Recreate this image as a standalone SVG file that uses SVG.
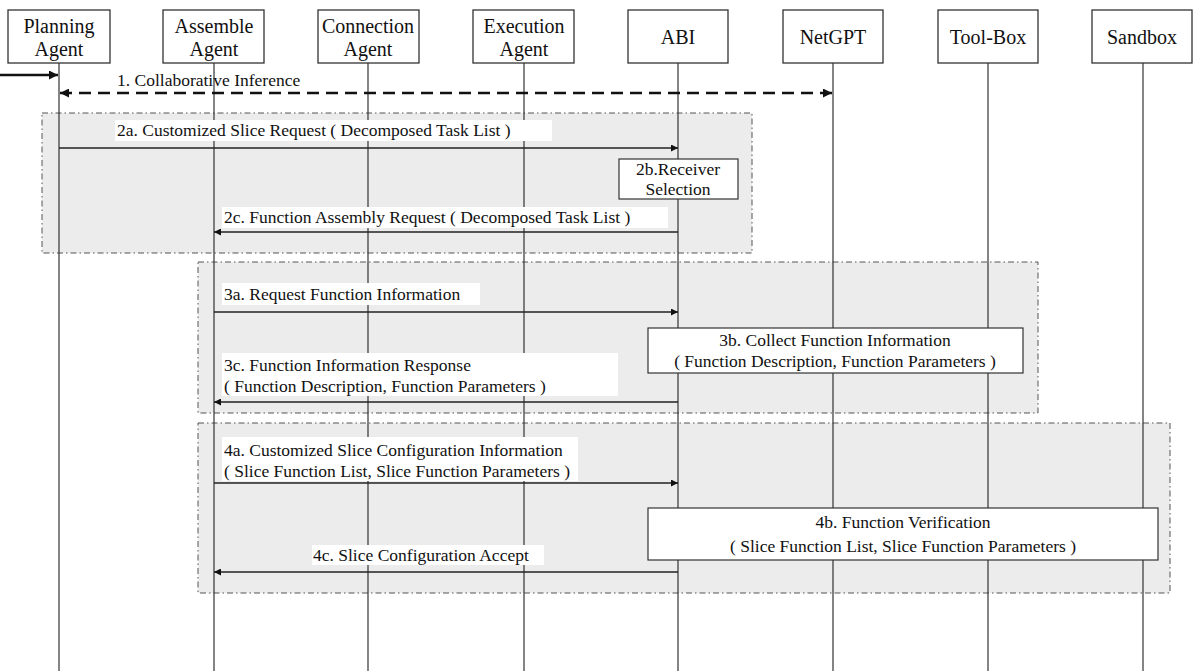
<svg xmlns="http://www.w3.org/2000/svg" width="1193" height="671" viewBox="0 0 1193 671">
  <defs>
    <marker id="arr" viewBox="0 0 10 10" refX="10" refY="5" markerWidth="9" markerHeight="7" markerUnits="userSpaceOnUse" orient="auto-start-reverse">
      <path d="M0,0 L10,5 L0,10 z" fill="#111"/>
    </marker>
    <marker id="arrBig" viewBox="0 0 10 10" refX="10" refY="5" markerWidth="12" markerHeight="9" markerUnits="userSpaceOnUse" orient="auto-start-reverse">
      <path d="M0,0 L10,5 L0,10 z" fill="#111"/>
    </marker>
  </defs>
  <style>
    .hdr { fill: #fff; stroke: #333; stroke-width: 1.3; }
    .hdrt { font-family: "Liberation Serif", "Times New Roman", serif; font-size: 20px; fill: #111; text-anchor: middle; }
    .life { stroke: #333; stroke-width: 1.2; }
    .grp { fill: #ececec; stroke: #555; stroke-width: 1; stroke-dasharray: 6 3 1.5 3; }
    .lbl { fill: #fff; stroke: none; }
    .lt { font-family: "Liberation Serif", "Times New Roman", serif; font-size: 17.5px; fill: #111; }
    .ct { text-anchor: middle; }
    .box { fill: #fff; stroke: #333; stroke-width: 1.2; }
    .msg { stroke: #222; stroke-width: 1.3; fill: none; marker-end: url(#arr); }
  </style>
  <rect width="1193" height="671" fill="#fff"/>

  <!-- grouping frames -->
  <g id="frames">
    <rect class="grp" x="42" y="113" width="710" height="140"/>
    <rect class="grp" x="198" y="262" width="840" height="151"/>
    <rect class="grp" x="198" y="423" width="972" height="170"/>
  </g>

  <!-- lifelines -->
  <g id="lifelines">
    <line class="life" x1="59" y1="63" x2="59" y2="671"/>
    <line class="life" x1="214" y1="63" x2="214" y2="671"/>
    <line class="life" x1="368" y1="63" x2="368" y2="671"/>
    <line class="life" x1="524" y1="63" x2="524" y2="671"/>
    <line class="life" x1="678" y1="63" x2="678" y2="671"/>
    <line class="life" x1="833" y1="63" x2="833" y2="671"/>
    <line class="life" x1="988" y1="63" x2="988" y2="671"/>
    <line class="life" x1="1143" y1="63" x2="1143" y2="671"/>
  </g>

  <!-- participants -->
  <g id="planning-agent">
    <rect class="hdr" x="8" y="10" width="102" height="53"/>
    <text class="hdrt" x="59" y="33">Planning</text>
    <text class="hdrt" x="59" y="56">Agent</text>
  </g>
  <g id="assemble-agent">
    <rect class="hdr" x="163" y="10" width="101" height="53"/>
    <text class="hdrt" x="214" y="33">Assemble</text>
    <text class="hdrt" x="214" y="56">Agent</text>
  </g>
  <g id="connection-agent">
    <rect class="hdr" x="318" y="10" width="101" height="53"/>
    <text class="hdrt" x="368" y="33">Connection</text>
    <text class="hdrt" x="368" y="56">Agent</text>
  </g>
  <g id="execution-agent">
    <rect class="hdr" x="473" y="10" width="101" height="53"/>
    <text class="hdrt" x="524" y="33">Execution</text>
    <text class="hdrt" x="524" y="56">Agent</text>
  </g>
  <g id="abi">
    <rect class="hdr" x="628" y="10" width="100" height="53"/>
    <text class="hdrt" x="678" y="44">ABI</text>
  </g>
  <g id="netgpt">
    <rect class="hdr" x="783" y="10" width="100" height="53"/>
    <text class="hdrt" x="833" y="44">NetGPT</text>
  </g>
  <g id="tool-box">
    <rect class="hdr" x="938" y="10" width="100" height="53"/>
    <text class="hdrt" x="988" y="44">Tool-Box</text>
  </g>
  <g id="sandbox">
    <rect class="hdr" x="1092" y="10" width="100" height="53"/>
    <text class="hdrt" x="1142" y="44">Sandbox</text>
  </g>

  <!-- messages -->
  <g id="connectors">
    <line x1="0" y1="75" x2="58" y2="75" stroke="#111" stroke-width="2.6" marker-end="url(#arrBig)"/>
    <line x1="60" y1="93" x2="832" y2="93" stroke="#111" stroke-width="2.4" stroke-dasharray="12 7" marker-start="url(#arrBig)" marker-end="url(#arrBig)"/>
    <line class="msg" x1="59" y1="148" x2="678" y2="148"/>
    <line class="msg" x1="678" y1="232" x2="214" y2="232"/>
    <line class="msg" x1="214" y1="312" x2="678" y2="312"/>
    <line class="msg" x1="678" y1="402" x2="214" y2="402"/>
    <line class="msg" x1="214" y1="483" x2="678" y2="483"/>
    <line class="msg" x1="678" y1="572" x2="214" y2="572"/>
  </g>

  <!-- message labels -->
  <g id="label-1">
    <text class="lt" x="117" y="86">1. Collaborative  Inference</text>
  </g>
  <g id="label-2a">
    <rect class="lbl" x="115" y="120" width="437" height="21"/>
    <text class="lt" x="117" y="136">2a. Customized Slice Request ( Decomposed Task List )</text>
  </g>
  <g id="step-2b">
    <rect class="box" x="619" y="159" width="119" height="40"/>
    <text class="lt ct" x="678" y="175">2b.Receiver</text>
    <text class="lt ct" x="678" y="195">Selection</text>
  </g>
  <g id="label-2c">
    <rect class="lbl" x="222" y="207" width="446" height="21"/>
    <text class="lt" x="224" y="223">2c. Function Assembly Request ( Decomposed Task List )</text>
  </g>
  <g id="label-3a">
    <rect class="lbl" x="222" y="283" width="258" height="22"/>
    <text class="lt" x="224" y="300">3a. Request Function Information</text>
  </g>
  <g id="step-3b">
    <rect class="box" x="648" y="328" width="375" height="45"/>
    <text class="lt ct" x="835" y="346">3b. Collect Function Information</text>
    <text class="lt ct" x="835" y="367">( Function Description, Function Parameters )</text>
  </g>
  <g id="label-3c">
    <rect class="lbl" x="222" y="353" width="396" height="43"/>
    <text class="lt" x="224" y="371">3c. Function Information  Response</text>
    <text class="lt" x="224" y="392">( Function Description, Function Parameters )</text>
  </g>
  <g id="label-4a">
    <rect class="lbl" x="222" y="437" width="356" height="44"/>
    <text class="lt" x="224" y="456">4a. Customized Slice Configuration  Information</text>
    <text class="lt" x="224" y="477">( Slice Function List, Slice Function Parameters )</text>
  </g>
  <g id="step-4b">
    <rect class="box" x="648" y="508" width="510" height="52"/>
    <text class="lt ct" x="903" y="528">4b. Function Verification</text>
    <text class="lt ct" x="903" y="552">( Slice Function List, Slice Function Parameters )</text>
  </g>
  <g id="label-4c">
    <rect class="lbl" x="312" y="545" width="232" height="20"/>
    <text class="lt" x="313" y="561">4c. Slice Configuration Accept</text>
  </g>
</svg>
